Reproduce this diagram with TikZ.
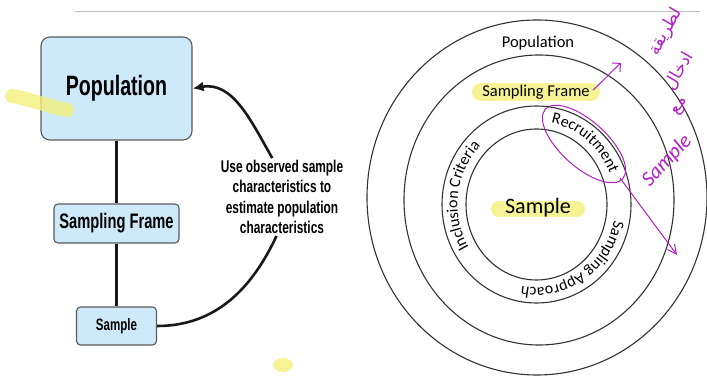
\documentclass[tikz,border=0pt]{standalone}
\usepackage{fontspec}
\usetikzlibrary{%
  arrows.meta,%
  decorations.text%
}
\TeXXeTstate=1
\newfontfamily\narrowfont[FakeStretch=0.7]{Liberation Sans}
\newfontfamily\circfont{Carlito}
\newfontfamily\arabicfont[Script=Arabic]{DejaVu Sans}
\definecolor{boxblue}{HTML}{CDE9FA}
\definecolor{boxline}{HTML}{5A5A5A}
\definecolor{ringline}{HTML}{333333}
\definecolor{marker}{HTML}{F4F07A}
\definecolor{annot}{HTML}{B21FC4}
\tikzset{>=latex, box/.style = {draw=boxline, line width=1.1pt, fill=boxblue,
	    rounded corners=4pt, inner sep=0pt},%
		link/.style={line width=2.2pt, draw=black!90},%
		ring/.style={draw=ringline, line width=1.1pt},%
		highlight/.style={draw=marker, line width=16pt, line cap=round, opacity=0.8},%
		scribble/.style={draw=annot, line width=1pt, line cap=round, line join=round},%
		penword/.style={text=annot, rotate=60, inner sep=0pt,
		  font=\arabicfont\fontsize{17}{20}\selectfont},%
		ringtext/.style={decorate, decoration={text along path, text align=center,
		  text={|\circfont\fontsize{16}{19}\selectfont|#1}}}}

\begin{document}
\begin{tikzpicture}[x=1pt,y=1pt]
\useasboundingbox (0,0) rectangle (707,377);
\draw[black!25, line width=0.8pt] (75,366) -- (700,366);
% flow chart
\node[box, minimum width=151pt, minimum height=103pt, rounded corners=9pt,
  font=\narrowfont\bfseries\fontsize{28}{32}\selectfont] (pop) at (116.5,288.5) {Population};
\node[box, minimum width=125pt, minimum height=39pt,
  font=\narrowfont\bfseries\fontsize{21}{24}\selectfont] (frame) at (116.5,153.5) {Sampling Frame};
\node[box, minimum width=80pt, minimum height=38pt,
  font=\narrowfont\bfseries\fontsize{16.5}{19}\selectfont] (smp) at (116.5,51) {Sample};
\draw[link] (pop) -- (frame);
\draw[link] (frame) -- (smp);
\node[align=center, inner sep=2pt, font=\narrowfont\bfseries\fontsize{17}{20.3}\selectfont]
  (infer) at (282,180) {Use observed sample\\characteristics to\\estimate population\\characteristics};
\draw[link, line width=2.6pt] (smp.east) to[out=0,in=-115] (infer.262);
\draw[link, line width=2.6pt, -{Latex[length=11pt,width=10pt]}] (infer.104)
  to[out=120,in=10] (pop.east);
\draw[highlight, line width=14pt] (12,281) .. controls (30,278) and (50,270) .. (67,267);
\fill[marker, opacity=0.8] (283,12) ellipse (10 and 7);
% nested circles
\draw[ring] (537,179.5) ellipse (170 and 177.5);
\draw[ring] (539,177) ellipse (135 and 145);
\draw[ring] (536.5,172.5) ellipse (94.5 and 98.5);
\draw[ring] (536.5,172.5) ellipse (70.5 and 75.5);
\draw[highlight, line width=18pt] (481,285) -- (591,285);
\draw[highlight] (499,168) -- (577,168);
\node[font=\circfont\fontsize{16.5}{20}\selectfont] (ringpop) at (538,334) {Population};
\node[font=\circfont\fontsize{16.5}{20}\selectfont] (ringframe) at (536,285) {Sampling Frame};
\node[font=\circfont\fontsize{22}{26}\selectfont] (ringsmp) at (538,169) {Sample};
\path[ringtext={Recruitment}] (536.5,172.5) ++(121.5:79 and 83)
  arc[start angle=121.5, end angle=-18.5, x radius=79, y radius=83];
\path[ringtext={Inclusion Criteria}] (536.5,172.5) ++(243:79 and 83)
  arc[start angle=243, end angle=103, x radius=79, y radius=83];
\path[ringtext={Sampling Approach}] (536.5,172.5) ++(13.5:79 and 83)
  arc[start angle=13.5, end angle=-126.5, x radius=79, y radius=83];
% pen notes
\draw[scribble, -{Straight Barb[length=6pt]}] (593,287) .. controls (603,296) and (612,306) .. (621,314);
\draw[scribble, rotate around={-42:(584,233)}] (584,233) ellipse (52 and 23);
\draw[scribble, -{Straight Barb[length=9pt,width=9pt]}] (620,199) -- (677,122);
\node[text=annot, rotate=47, font=\circfont\itshape\fontsize{21}{24}\selectfont] (note) at (667,216) {Sample};
\node[penword] (word1) at (666,345) {\beginR لطريقة\endR};
\node[penword] (word2) at (679,306) {\beginR ادخال\endR};
\node[penword] (word3) at (681,270) {\beginR مع\endR};
\end{tikzpicture}
\end{document}
